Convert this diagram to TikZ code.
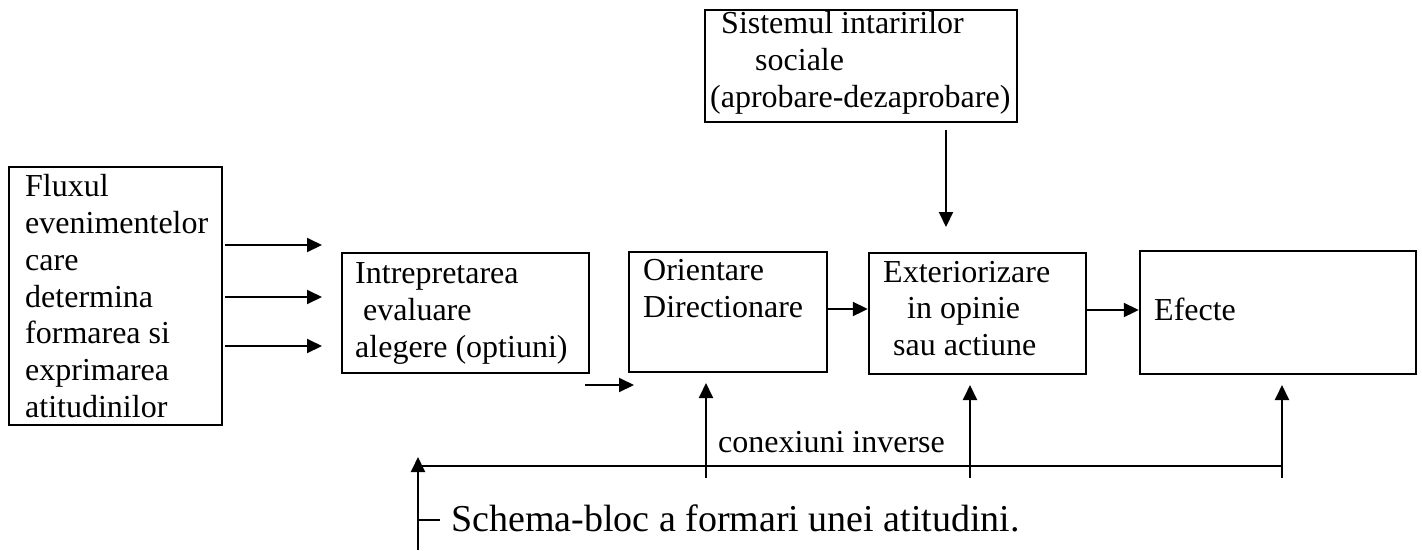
\documentclass[tikz,border=0pt]{standalone}
\usepackage{fontspec}
\setmainfont{Liberation Serif}
\usetikzlibrary{arrows.meta}
\begin{document}
\begin{tikzpicture}[x=1pt,y=-1pt,
  box/.style={draw,line width=2.4pt,inner sep=0pt},
  txt/.style={anchor=base west,inner sep=0pt,font=\fontsize{32}{37}\selectfont},
  captxt/.style={anchor=base west,inner sep=0pt,font=\fontsize{38}{44}\selectfont},
  arr/.style={line width=2pt,-{Triangle[length=15pt,width=14pt]}},
  ln/.style={line width=2pt}]
\useasboundingbox (0,0) rectangle (1422,550);
% boxes
\node[box,minimum width=213pt,minimum height=258pt] (flux) at (115.5,296) {};
\node[box,minimum width=247pt,minimum height=120pt] (interp) at (465.5,313) {};
\node[box,minimum width=198pt,minimum height=120pt] (orient) at (728,312) {};
\node[box,minimum width=217pt,minimum height=121pt] (ext) at (977.5,313.5) {};
\node[box,minimum width=276pt,minimum height=123pt] (efecte) at (1278,312.5) {};
\node[box,minimum width=312pt,minimum height=112pt] (sist) at (861,66) {};
% texts
\node[txt] (f1) at (25,196) {Fluxul};
\node[txt] (f2) at (25,233) {evenimentelor};
\node[txt] (f3) at (25,270) {care};
\node[txt] (f4) at (25,307) {determina};
\node[txt] (f5) at (25,343) {formarea si};
\node[txt] (f6) at (25,380) {exprimarea};
\node[txt] (f7) at (25,417) {atitudinilor};
\node[txt] (i1) at (355,283) {Intrepretarea};
\node[txt] (i2) at (363,320) {evaluare};
\node[txt] (i3) at (355,357) {alegere (optiuni)};
\node[txt] (o1) at (643,280) {Orientare};
\node[txt] (o2) at (643,317) {Directionare};
\node[txt] (e1) at (883,282) {Exteriorizare};
\node[txt] (e2) at (907,318) {in opinie};
\node[txt] (e3) at (893,355) {sau actiune};
\node[txt] (ef) at (1154,320) {Efecte};
\node[txt] (s1) at (721,33) {Sistemul intaririlor};
\node[txt] (s2) at (755,70) {sociale};
\node[txt] (s3) at (710,107) {(aprobare-dezaprobare)};
\node[txt] (conex) at (718,452) {conexiuni inverse};
\node[captxt] (cap) at (451,531) {Schema-bloc a formari unei atitudini.};
% coordinates
\coordinate (a1s) at (225,245); \coordinate (a1e) at (322,245);
\coordinate (a2s) at (225,297); \coordinate (a2e) at (322,297);
\coordinate (a3s) at (225,346); \coordinate (a3e) at (322,346);
\coordinate (sms) at (585,385); \coordinate (sme) at (634,385);
\coordinate (sas) at (946,130); \coordinate (sae) at (946,227);
\coordinate (fbL) at (418,466); \coordinate (fbR) at (1282,466);
\coordinate (v1b) at (706,478); \coordinate (v1t) at (706,383);
\coordinate (v2b) at (970,478); \coordinate (v2t) at (970,385);
\coordinate (v3b) at (1282,478); \coordinate (v3t) at (1282,385);
\coordinate (lb) at (418,550); \coordinate (lt) at (418,457);
\coordinate (tk1) at (418,520); \coordinate (tk2) at (440,520);
% connectors
\draw[arr] (a1s) -- (a1e);
\draw[arr] (a2s) -- (a2e);
\draw[arr] (a3s) -- (a3e);
\draw[arr] (sms) -- (sme);
\draw[arr] (orient.east |- 0,309) -- (ext.west |- 0,309);
\draw[arr] (ext.east |- 0,310) -- (efecte.west |- 0,310);
\draw[arr] (sas) -- (sae);
\draw[ln] (fbL) -- (fbR);
\draw[arr] (v1b) -- (v1t);
\draw[arr] (v2b) -- (v2t);
\draw[arr] (v3b) -- (v3t);
\draw[arr] (lb) -- (lt);
\draw[ln] (tk1) -- (tk2);
\end{tikzpicture}
\end{document}
